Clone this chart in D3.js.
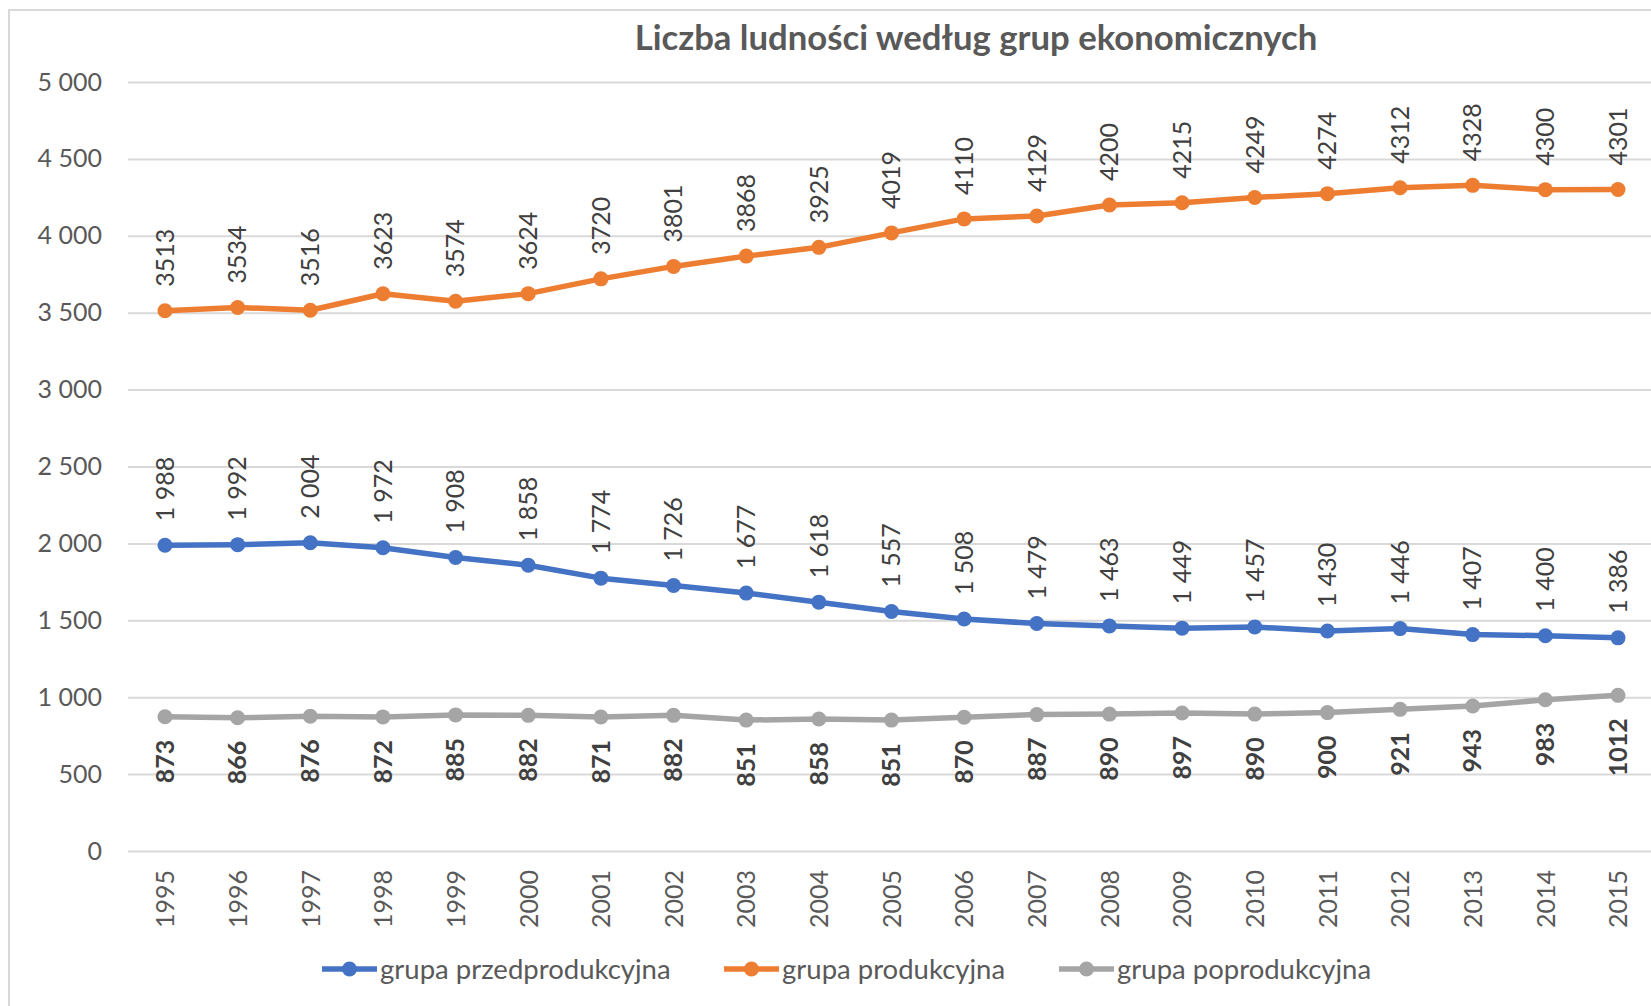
<!DOCTYPE html>
<html lang="pl">
<head>
<meta charset="UTF-8">
<title>Liczba ludności według grup ekonomicznych</title>
<script src="https://d3js.org/d3.v7.min.js"></script>
<style>
  html, body { margin: 0; padding: 0; background: #fff; }
  svg text { font-family: Lato, "Open Sans", sans-serif; }
</style>
</head>
<body>
<div id="chart"></div>
<script>
// data
var years = ["1995","1996","1997","1998","1999","2000","2001","2002","2003","2004","2005",
             "2006","2007","2008","2009","2010","2011","2012","2013","2014","2015"];
var przedprodukcyjna = [1988,1992,2004,1972,1908,1858,1774,1726,1677,1618,1557,1508,1479,1463,1449,1457,1430,1446,1407,1400,1386];
var produkcyjna = [3513,3534,3516,3623,3574,3624,3720,3801,3868,3925,4019,4110,4129,4200,4215,4249,4274,4312,4328,4300,4301];
var poprodukcyjna = [873,866,876,872,885,882,871,882,851,858,851,870,887,890,897,890,900,921,943,983,1012];
var yTicks = [0,500,1000,1500,2000,2500,3000,3500,4000,4500,5000];
var seriesNames = ["grupa przedprodukcyjna","grupa produkcyjna","grupa poprodukcyjna"];

var width = 1651, height = 1006;

// spaces as thousands separator (Polish)
var spaced = function (v) { return d3.format(",")(v).replace(/,/g, " "); };
var plain = function (v) { return String(v); };

var series = [
  { name: seriesNames[0], values: przedprodukcyjna, color: "#4472C4", fmt: spaced, pos: "above", bold: false },
  { name: seriesNames[1], values: produkcyjna, color: "#ED7D31", fmt: plain, pos: "above", bold: false },
  { name: seriesNames[2], values: poprodukcyjna, color: "#A5A5A5", fmt: plain, pos: "below", bold: true }
];

var svg = d3.select("#chart").append("svg")
    .attr("width", width)
    .attr("height", height);

// chart frame (only left and top edges are visible)
svg.append("path")
    .attr("d", "M9,1006 V10 H1651")
    .attr("fill", "none")
    .attr("stroke", "#d9d9d9")
    .attr("stroke-width", 2);

var x = d3.scalePoint()
    .domain(years)
    .range([165, 1618]);

var y = d3.scaleLinear()
    .domain([0, 5000])
    .range([851, 82]);

// title
svg.append("text")
    .attr("x", 976)
    .attr("y", 50)
    .attr("text-anchor", "middle")
    .attr("font-size", 34.7)
    .attr("font-weight", "bold")
    .attr("fill", "#595959")
    .text("Liczba ludności według grup ekonomicznych");

// gridlines + y labels
var yAxis = d3.axisLeft(y)
    .tickValues(yTicks)
    .tickSize(-(width - 128))
    .tickPadding(26)
    .tickFormat(spaced);

var gy = svg.append("g")
    .attr("transform", "translate(128,0)")
    .call(yAxis);
gy.select(".domain").remove();
gy.selectAll(".tick line").attr("stroke", "#d9d9d9").attr("stroke-width", 2);
gy.selectAll(".tick text")
    .attr("font-size", 25)
    .attr("fill", "#595959");

// x labels, rotated
var xAxis = d3.axisBottom(x).tickSize(0).tickPadding(0);
var gx = svg.append("g")
    .attr("transform", "translate(0,851)")
    .call(xAxis);
gx.select(".domain").remove();
gx.selectAll(".tick text")
    .attr("font-size", 25)
    .attr("fill", "#595959")
    .attr("text-anchor", "end")
    .attr("dy", "0.35em")
    .attr("transform", "translate(0,19) rotate(-90)")
    .attr("x", 0)
    .attr("y", 0);

var line = d3.line()
    .x(function (d, i) { return x(years[i]); })
    .y(function (d) { return y(d); });

series.forEach(function (s) {
  var g = svg.append("g");
  g.append("path")
      .datum(s.values)
      .attr("d", line)
      .attr("fill", "none")
      .attr("stroke", s.color)
      .attr("stroke-width", 5.5)
      .attr("stroke-linejoin", "round");

  g.selectAll("circle")
      .data(s.values)
      .enter().append("circle")
      .attr("cx", function (d, i) { return x(years[i]); })
      .attr("cy", function (d) { return y(d); })
      .attr("r", 7.5)
      .attr("fill", s.color);

  g.selectAll("text")
      .data(s.values)
      .enter().append("text")
      .attr("transform", function (d, i) {
        var off = s.pos === "above" ? -24 : 23;
        return "translate(" + x(years[i]) + "," + (y(d) + off) + ") rotate(-90)";
      })
      .attr("text-anchor", s.pos === "above" ? "start" : "end")
      .attr("dy", "0.35em")
      .attr("font-size", 25)
      .attr("font-weight", s.bold ? "bold" : "normal")
      .attr("fill", "#404040")
      .text(function (d) { return s.fmt(d); });
});

// legend
var legendX = [322, 724, 1059];
var legend = svg.append("g");
series.forEach(function (s, i) {
  var lg = legend.append("g").attr("transform", "translate(" + legendX[i] + ",969)");
  lg.append("line")
      .attr("x1", 0).attr("x2", 55)
      .attr("stroke", s.color)
      .attr("stroke-width", 5.5);
  lg.append("circle")
      .attr("cx", 27.5)
      .attr("r", 7.5)
      .attr("fill", s.color);
  lg.append("text")
      .attr("x", 58)
      .attr("dy", "0.35em")
      .attr("font-size", 27.5)
      .attr("fill", "#595959")
      .text(s.name);
});
</script>
</body>
</html>
